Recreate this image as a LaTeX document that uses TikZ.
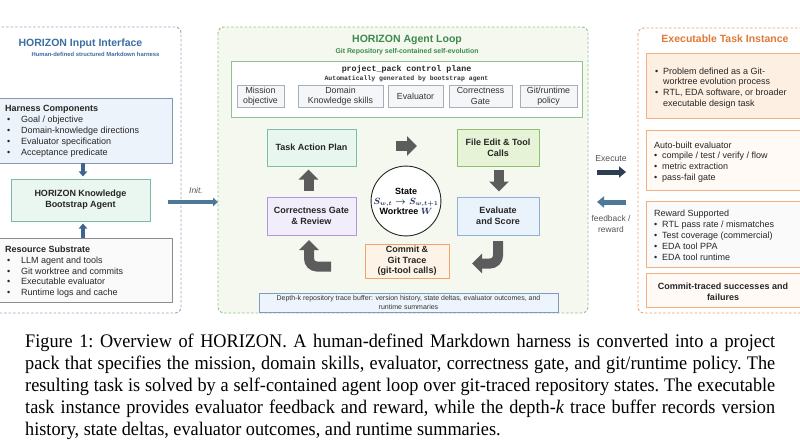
\documentclass[tikz,border=0pt]{standalone}
\usepackage{fontspec}
\setmainfont{Liberation Sans}
\setsansfont{Liberation Sans}
\setmonofont{Liberation Mono}
\newfontfamily\capfont[FakeStretch=0.95]{Liberation Serif}
\usetikzlibrary{arrows.meta,calc}
\definecolor{lpB}{HTML}{8FA9C8}
\definecolor{lpT}{HTML}{3A6EA5}
\definecolor{mpB}{HTML}{94BE94}
\definecolor{mpF}{HTML}{F4F8EF}
\definecolor{mpT}{HTML}{3C8A4C}
\definecolor{rpB}{HTML}{F0A070}
\definecolor{rpT}{HTML}{E07A35}
\definecolor{arB}{HTML}{3E6590}
\definecolor{grA}{HTML}{5C5C5C}
\definecolor{exA}{HTML}{2D3E52}
\definecolor{fbA}{HTML}{4D7898}
\definecolor{txG}{HTML}{555555}
\definecolor{mathN}{HTML}{1F2F5A}
\definecolor{harF}{HTML}{EDF3FA}
\definecolor{harD}{HTML}{8598B0}
\definecolor{bootF}{HTML}{EAF7F1}
\definecolor{bootD}{HTML}{7DBA9F}
\definecolor{taskF}{HTML}{E8F6F0}
\definecolor{taskD}{HTML}{7DBFA5}
\definecolor{fileF}{HTML}{E6F3D6}
\definecolor{fileD}{HTML}{8DC06F}
\definecolor{evalF}{HTML}{EAF2FB}
\definecolor{evalD}{HTML}{8FB0D6}
\definecolor{revF}{HTML}{F2EDFB}
\definecolor{revD}{HTML}{B595E0}
\definecolor{comF}{HTML}{FDF3E6}
\definecolor{comD}{HTML}{F0A46C}
\definecolor{subF}{HTML}{F4F6F8}
\definecolor{subD}{HTML}{A3B0C0}
\definecolor{depF}{HTML}{EEF4FB}
\definecolor{depD}{HTML}{7C9CC0}
\definecolor{rb1F}{HTML}{FDF0E2}
\definecolor{rb2F}{HTML}{FFFAF5}
\definecolor{rbD}{HTML}{F2B080}
\newcommand{\bulL}{\makebox[16pt][l]{\hspace{2pt}\textbullet}}
\newcommand{\bulR}{\makebox[8pt][l]{\textbullet}}
\tikzset{
  panel/.style={rounded corners=6pt, dash pattern=on 2.5pt off 2pt, line width=0.9pt},
  box/.style={draw, rectangle, inner sep=0pt, line width=0.8pt},
  lst/.style={anchor=north west, inner sep=0pt, align=left, font=\fontsize{9}{10.9}\selectfont, text=black!85},
  lbl/.style={inner sep=0pt, align=center, font=\fontsize{9}{11}\selectfont\bfseries, text=black!85},
  subbox/.style={box, fill=subF, draw=subD, minimum height=22pt, align=center, font=\fontsize{8.8}{10.2}\selectfont, text=black!80, line width=0.7pt},
  blockarrow/.style={draw=grA, line width=10pt, -{Triangle[length=10pt,width=19pt]}},
  smallarrow/.style={draw=arB, line width=3.5pt, -{Triangle[length=5pt,width=8.5pt]}},
}
\begin{document}
\begin{tikzpicture}[x=1pt,y=-1pt]
\useasboundingbox (0,0) rectangle (800,445);
\clip (0,0) rectangle (800,445);
\fill[white] (0,0) rectangle (800,445);

% ---------------- panels
\draw[panel, draw=lpB, fill=white] (-20,27) rectangle (181,313);
\draw[panel, draw=mpB, fill=mpF] (218,27) rectangle (588,313);
\draw[panel, draw=rpB, fill=white] (638,28) rectangle (820,313);
\coordinate (midwest) at (218,202);
\coordinate (rightwest) at (638,202);

% ---------------- left panel
\node[inner sep=0pt, font=\fontsize{10.5}{12}\selectfont\bfseries, text=lpT] (intitle) at (80.5,44) {HORIZON Input Interface};
\node[inner sep=0pt, font=\fontsize{5.85}{7}\selectfont\bfseries, text=lpT] (insub) at (95.5,54.5) {Human-defined structured Markdown harness};

\node[box, fill=harF, draw=harD, minimum width=177pt, minimum height=65pt] (harness) at (83.5,130.5) {};
\node[lst] (harnesstxt) at (5,105.5) {\textbf{Harness Components}\\
\bulL Goal / objective\\
\bulL Domain-knowledge directions\\
\bulL Evaluator specification\\
\bulL Acceptance predicate};

\node[box, fill=bootF, draw=bootD, minimum width=139pt, minimum height=42pt, lbl] (boot) at (80.5,200) {HORIZON Knowledge\\Bootstrap Agent};

\node[box, fill=black!2, draw=black!45, minimum width=177pt, minimum height=64pt] (resource) at (83.5,270) {};
\node[lst] (resourcetxt) at (5,245.5) {\textbf{Resource Substrate}\\
\bulL LLM agent and tools\\
\bulL Git worktree and commits\\
\bulL Executable evaluator\\
\bulL Runtime logs and cache};

\draw[smallarrow] (harness.south -| 83,0) -- ++(0,13);
\draw[smallarrow] (resource.north -| 83,0) -- ++(0,-14);

% init arrow
\coordinate (initstart) at (168,202);
\node[inner sep=0pt, font=\fontsize{8.5}{9}\selectfont\itshape, text=txG] (inittxt) at (196,190) {Init.};
\draw[draw=fbA, line width=3.5pt, -{Triangle[length=5pt,width=8.5pt]}] (initstart) -- (midwest);

% ---------------- middle panel
\node[inner sep=0pt, font=\fontsize{10.5}{12}\selectfont\bfseries, text=mpT] (midtitle) at (407,40) {HORIZON Agent Loop};
\node[inner sep=0pt, font=\fontsize{6.9}{8}\selectfont\bfseries, text=mpT] (midsub) at (407,51.5) {Git Repository self-contained self-evolution};

\node[box, fill=white, draw=mpB, minimum width=351pt, minimum height=56pt] (pack) at (406.5,89) {};
\node[inner sep=0pt, font=\fontsize{8.3}{9}\selectfont\ttfamily\bfseries, text=black!85] (packtitle) at (406.5,69) {project\_pack control plane};
\node[inner sep=0pt, font=\fontsize{6.5}{7}\selectfont\ttfamily\bfseries, text=black!80] (packsub) at (406.5,78.5) {Automatically generated by bootstrap agent};

\node[subbox, minimum width=47pt] (mission) at (260.5,96) {Mission\\objective};
\node[subbox, minimum width=85pt] (domain) at (340.5,96) {Domain\\Knowledge skills};
\node[subbox, minimum width=55pt] (evaluator) at (415.5,96) {Evaluator};
\node[subbox, minimum width=63pt] (gate) at (480.5,96) {Correctness\\Gate};
\node[subbox, minimum width=57pt] (policy) at (548.5,96) {Git/runtime\\policy};

\node[box, fill=taskF, draw=taskD, minimum width=89pt, minimum height=37pt, lbl] (task) at (311.5,147.5) {Task Action Plan};
\node[box, fill=fileF, draw=fileD, minimum width=82pt, minimum height=37pt, lbl] (fileedit) at (498,147.5) {File Edit \& Tool\\Calls};
\node[box, fill=evalF, draw=evalD, minimum width=82pt, minimum height=38pt, lbl] (evalscore) at (498,216) {Evaluate\\and Score};
\node[box, fill=revF, draw=revD, minimum width=89pt, minimum height=38pt, lbl] (review) at (311.5,216) {Correctness Gate\\\& Review};
\node[box, fill=comF, draw=comD, minimum width=84pt, minimum height=34pt, lbl, font=\fontsize{9}{10.5}\selectfont\bfseries] (commit) at (407,261) {Commit \&\\Git Trace\\(git-tool calls)};

\node[circle, draw=black!85, fill=white, line width=0.9pt, minimum size=64pt, inner sep=0pt, align=center, font=\fontsize{9}{10.5}\selectfont\bfseries] (state) at (406,201) {State\\[-0.5pt]{\boldmath\color{mathN}$S_{w,t}\rightarrow S_{w,t+1}$}\\[-0.5pt]Worktree {\boldmath\color{mathN}$W$}};

% loop arrows
\coordinate (ra1) at (396,146); \coordinate (ra2) at (417,146);
\draw[blockarrow] (ra1) -- (ra2);
\coordinate (da1) at (499,170); \coordinate (da2) at (499,191.5);
\draw[blockarrow] (da1) -- (da2);
\coordinate (ua1) at (308.5,190.5); \coordinate (ua2) at (308.5,169.5);
\draw[blockarrow] (ua1) -- (ua2);
\coordinate (ca1) at (498,241); \coordinate (ca2) at (498,263.5); \coordinate (ca3) at (472,263.5);
\draw[blockarrow, rounded corners=8pt] (ca1) -- (ca2) -- (ca3);
\coordinate (cb1) at (331,266.5); \coordinate (cb2) at (309,266.5); \coordinate (cb3) at (309,240);
\draw[blockarrow, rounded corners=8pt] (cb1) -- (cb2) -- (cb3);

\node[box, fill=depF, draw=depD, minimum width=299pt, minimum height=19pt, align=center, font=\fontsize{7}{8.6}\selectfont, text=black!80, line width=0.7pt] (depth) at (408.5,302.5) {Depth-k repository trace buffer: version history, state deltas, evaluator outcomes, and\\runtime summaries};

% ---------------- execute / feedback
\node[inner sep=0pt, font=\fontsize{8.7}{9}\selectfont, text=txG] (exectxt) at (611,159) {Execute};
\coordinate (ex1) at (597,172); \coordinate (ex2) at (626,172);
\draw[draw=exA, line width=5pt, -{Triangle[length=7pt,width=11pt]}] (ex1) -- (ex2);
\coordinate (fb1) at (626,202); \coordinate (fb2) at (597,202);
\draw[draw=fbA, line width=5pt, -{Triangle[length=7pt,width=11pt]}] (fb1) -- (fb2);
\node[inner sep=0pt, align=center, font=\fontsize{8.4}{10.5}\selectfont, text=txG] (fbtxt) at (611,224) {feedback /\\reward};

% ---------------- right panel
\node[inner sep=0pt, font=\fontsize{10.5}{12}\selectfont\bfseries, text=rpT] (righttitle) at (725,39) {Executable Task Instance};
\node[box, fill=rb1F, draw=rbD, minimum width=164pt, minimum height=65pt] (rb1) at (728,85.5) {};
\node[lst, font=\fontsize{9}{10.7}\selectfont] (rb1txt) at (655,67.5) {\bulR Problem defined as a Git-\\
\hspace*{8pt}worktree evolution process\\
\bulR RTL, EDA software, or broader\\
\hspace*{8pt}executable design task};
\node[box, fill=rb2F, draw=rbD, minimum width=164pt, minimum height=60pt] (rb2) at (728,160) {};
\node[lst, font=\fontsize{9}{10.7}\selectfont] (rb2txt) at (654,141.5) {Auto-built evaluator\\
\bulR compile / test / verify / flow\\
\bulR metric extraction\\
\bulR pass-fail gate};
\node[box, fill=black!2, draw=rbD, minimum width=164pt, minimum height=66pt] (rb3) at (728,234) {};
\node[lst, font=\fontsize{9}{11}\selectfont] (rb3txt) at (654,209.5) {Reward Supported\\
\bulR RTL pass rate / mismatches\\
\bulR Test coverage (commercial)\\
\bulR EDA tool PPA\\
\bulR EDA tool runtime};
\node[box, fill=rb2F, draw=rbD, minimum width=164pt, minimum height=34pt] (rb4) at (728,290) {};
\node[lbl] (rb4txt) at (723,291.5) {Commit-traced successes and\\failures};

% ---------------- caption
\node[anchor=north west, inner sep=0pt, text width=750pt, align=justify, font=\capfont\fontsize{19.2}{22}\selectfont\frenchspacing] (caption) at (25,334) {Figure 1: Overview of HORIZON. A human-defined Markdown harness is converted into a project\linebreak
pack that specifies the mission, domain skills, evaluator, correctness gate, and git/runtime policy. The\linebreak
resulting task is solved by a self-contained agent loop over git-traced repository states. The executable\linebreak
task instance provides evaluator feedback and reward, while the depth-\textit{k} trace buffer records version\linebreak
history, state deltas, evaluator outcomes, and runtime summaries.};
\end{tikzpicture}
\end{document}
